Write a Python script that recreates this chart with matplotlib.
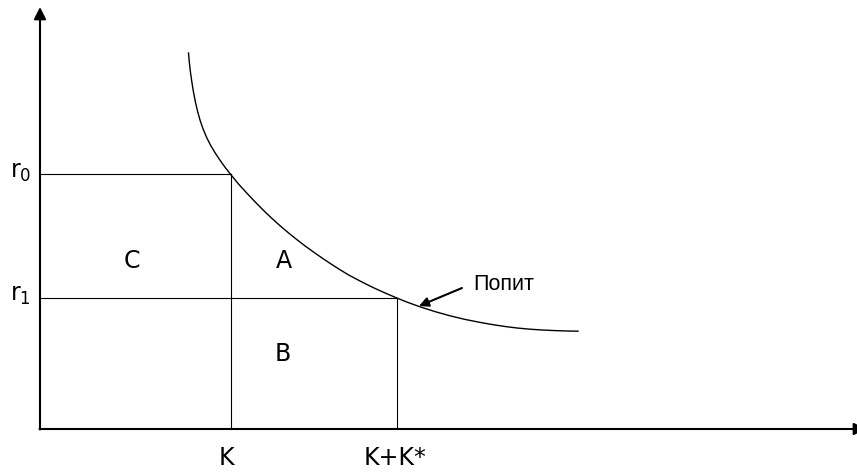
import numpy as np
import matplotlib.pyplot as plt

plt.rcParams['mathtext.default'] = 'regular'

# levels on the axes
r0 = 255
r1 = 131.5
K = 191
KK = 357  # K+K*

# demand curve, points
demand_x = [148.5, 149.3, 150.3, 151.7, 153.3, 155.3, 157.5, 160, 163, 166.7,
            170.5, 175, 180, 185, 190.7, 198.5, 206.7, 215, 223.3, 231.5,
            240, 248.5, 256.7, 265, 273.3, 281.5, 290, 299, 308.3, 320,
            333, 344, 355.6, 367, 380, 395, 410, 425, 440, 452,
            465, 477, 490, 502, 515, 527, 538]
demand_y = [376, 367, 358, 348, 338, 327.5, 318, 309, 300.2, 291.4,
            283.9, 276.3, 268.8, 261.8, 254.5, 245, 236, 227.2, 218.8, 211,
            203.3, 196.1, 189.5, 183.1, 177.1, 171.4, 165.7, 159.9, 154.2, 148,
            141.5, 136.5, 131.5, 126.9, 122.2, 117.4, 113.2, 109.6, 106.6, 104.5,
            102.5, 101, 99.8, 99, 98.4, 98, 97.8]

area_labels = ['C', 'A', 'B']
area_x = [91.7, 244.3, 243]
area_y = [168.5, 168.5, 75]

fig = plt.figure(figsize=(8.57, 4.74), dpi=100)
ax = fig.add_axes([0, 0, 1, 1])
ax.set_xlim(-40, 817)
ax.set_ylim(-45, 429)
ax.axis('off')

# axes with arrow heads
axis_style = dict(arrowstyle='-|>', color='black', lw=1.5, mutation_scale=18,
                  shrinkA=0, shrinkB=0)
ax.annotate('', xy=(0, 422), xytext=(0, -0.5), arrowprops=axis_style,
            annotation_clip=False)
ax.annotate('', xy=(826, 0), xytext=(-0.5, 0), arrowprops=axis_style,
            annotation_clip=False)

# rectangles
ax.plot([0, K], [r0, r0], color='black', lw=0.8)
ax.plot([0, KK], [r1, r1], color='black', lw=0.8)
ax.plot([K, K], [0, r0], color='black', lw=0.8)
ax.plot([KK, KK], [0, r1], color='black', lw=0.8)

ax.plot(demand_x, demand_y, color='black', lw=1.0)

fs = 17
ax.text(-9, r0 + 2, 'r$_0$', ha='right', va='center', fontsize=fs)
ax.text(-9, r1 + 3, 'r$_1$', ha='right', va='center', fontsize=fs)
ax.text(K - 5, -29, 'K', ha='center', va='center', fontsize=fs)
ax.text(KK - 2, -29, 'K+K*', ha='center', va='center', fontsize=fs)
for lab, x, y in zip(area_labels, area_x, area_y):
    ax.text(x, y, lab, ha='center', va='center', fontsize=fs)

ax.text(433, 145, 'Попит', fontsize=15.5, family='Liberation Sans',
        ha='left', va='center')
ax.annotate('', xy=(379, 123), xytext=(422, 141),
            arrowprops=dict(arrowstyle='-|>', color='black', lw=1.5,
                            mutation_scale=14, shrinkA=0, shrinkB=0))

fig.savefig('out.png', dpi=100)
